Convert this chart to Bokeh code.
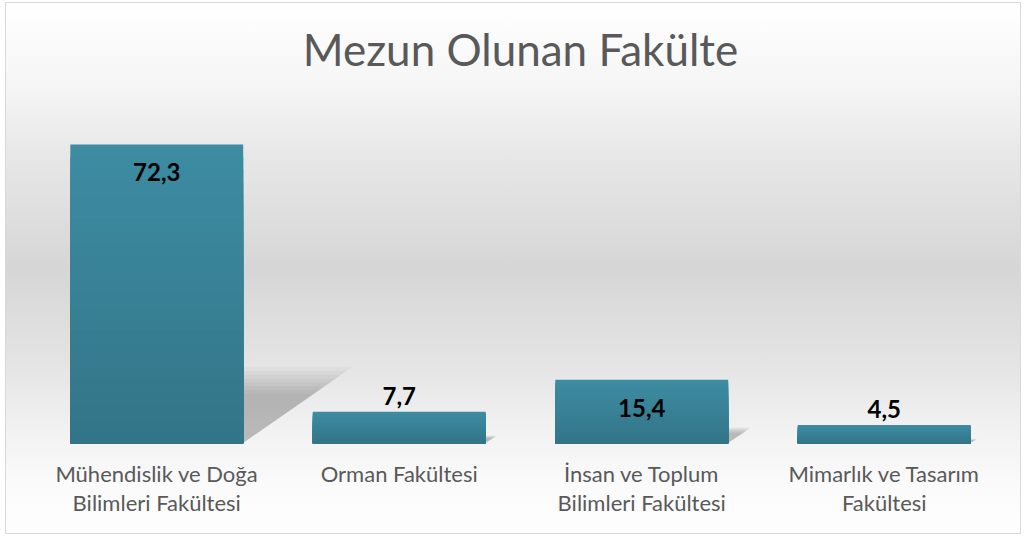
from bokeh.plotting import figure
from bokeh.models import Range1d, FixedTicker, ColumnDataSource, LabelSet
from bokeh.core.properties import value
from bokeh.embed import file_html
from bokeh.resources import INLINE

# ---- data ----
categories = ["Mühendislik ve Doğa\nBilimleri Fakültesi", "Orman Fakültesi",
              "İnsan ve Toplum\nBilimleri Fakültesi", "Mimarlık ve Tasarım\nFakültesi"]
values = [72.3, 7.7, 15.4, 4.5]
title_text = "Mezun Olunan Fakülte"

# ---- style ----
BAR_W = 0.713
TOP_RGB = (61, 140, 163)
BOT_RGB = (51, 117, 135)
N_SEG = 24
Y_END = 84.39

bg_css = ("linear-gradient(to bottom, #ffffff 0%, #f5f5f5 16%, #e8e8e8 28%, #d6d6d6 50%, "
          "#e3e3e3 67%, #f2f2f2 81%, #fafafa 90%, #fefefe 100%) 6px 3px / 1014px 530px no-repeat, "
          "linear-gradient(#d9d9d9, #d9d9d9) 5px 2px / 1016px 532px no-repeat, #ffffff")

p = figure(width=1027, height=537, output_backend="svg", toolbar_location=None,
           x_range=Range1d(0, len(values)), y_range=Range1d(0, Y_END),
           min_border_left=35, min_border_right=22, min_border_top=94, min_border_bottom=94,
           background_fill_alpha=0, border_fill_alpha=0, outline_line_color=None,
           styles={"background": bg_css})

xs = [i + 0.5 for i in range(len(values))]

# shadows (perspective, soft)
for k in range(8):
    f = 1.0 - 0.05 * k
    sx, sy = [], []
    for c, v in zip(xs, values):
        L, R = c - BAR_W / 2, c + BAR_W / 2
        s = v * 0.0062 * f
        h = v * 0.255 * f
        sx.append([L, R + 0.004, R + s, L + s])
        sy.append([0.3, 0.3, h, h])
    p.patches(sx, sy, fill_color="black", fill_alpha=0.03, line_color=None)

# gradient bars: nested quads from the base, tallest (top colour) drawn first
qx0, qx1, qt, qc = [], [], [], []
for k in range(N_SEG, 0, -1):
    t = (k - 0.5) / N_SEG
    col = tuple(int(round(BOT_RGB[j] + (TOP_RGB[j] - BOT_RGB[j]) * t)) for j in range(3))
    for c, v in zip(xs, values):
        qx0.append(c - BAR_W / 2)
        qx1.append(c + BAR_W / 2)
        qt.append(v * k / N_SEG)
        qc.append("#%02x%02x%02x" % col)
p.quad(left=qx0, right=qx1, bottom=0, top=qt, fill_color=qc, line_color=None)

# value labels
lab = ColumnDataSource(dict(
    x=xs, y=values,
    text=[f"{v:.1f}".replace(".", ",") for v in values],
    off=[-28 if v > 12 else 16 for v in values],
))
p.add_layout(LabelSet(x="x", y="y", text="text", source=lab, y_offset="off",
                      text_align="center", text_baseline="middle",
                      text_font=value("Lato"), text_font_style="bold", text_font_size="24px",
                      text_color="black"))

# axes
p.yaxis.visible = False
p.xgrid.visible = False
p.ygrid.visible = False
xa = p.xaxis[0]
xa.ticker = FixedTicker(ticks=xs)
xa.major_label_overrides = {x: c for x, c in zip(xs, categories)}
xa.axis_line_color = None
xa.major_tick_line_color = None
xa.minor_tick_line_color = None
xa.major_label_standoff = 10
xa.major_label_text_font = "Lato"
xa.major_label_text_font_size = "22px"
xa.major_label_text_color = "#595959"
xa.major_label_text_line_height = 1.1

p.title.text = title_text
p.title.align = "center"
p.title.text_font = "Lato"
p.title.text_font_style = "normal"
p.title.text_font_size = "44px"
p.title.text_color = "#595959"
p.title.standoff = 39

open("out.html", "w").write(file_html(p, INLINE))
